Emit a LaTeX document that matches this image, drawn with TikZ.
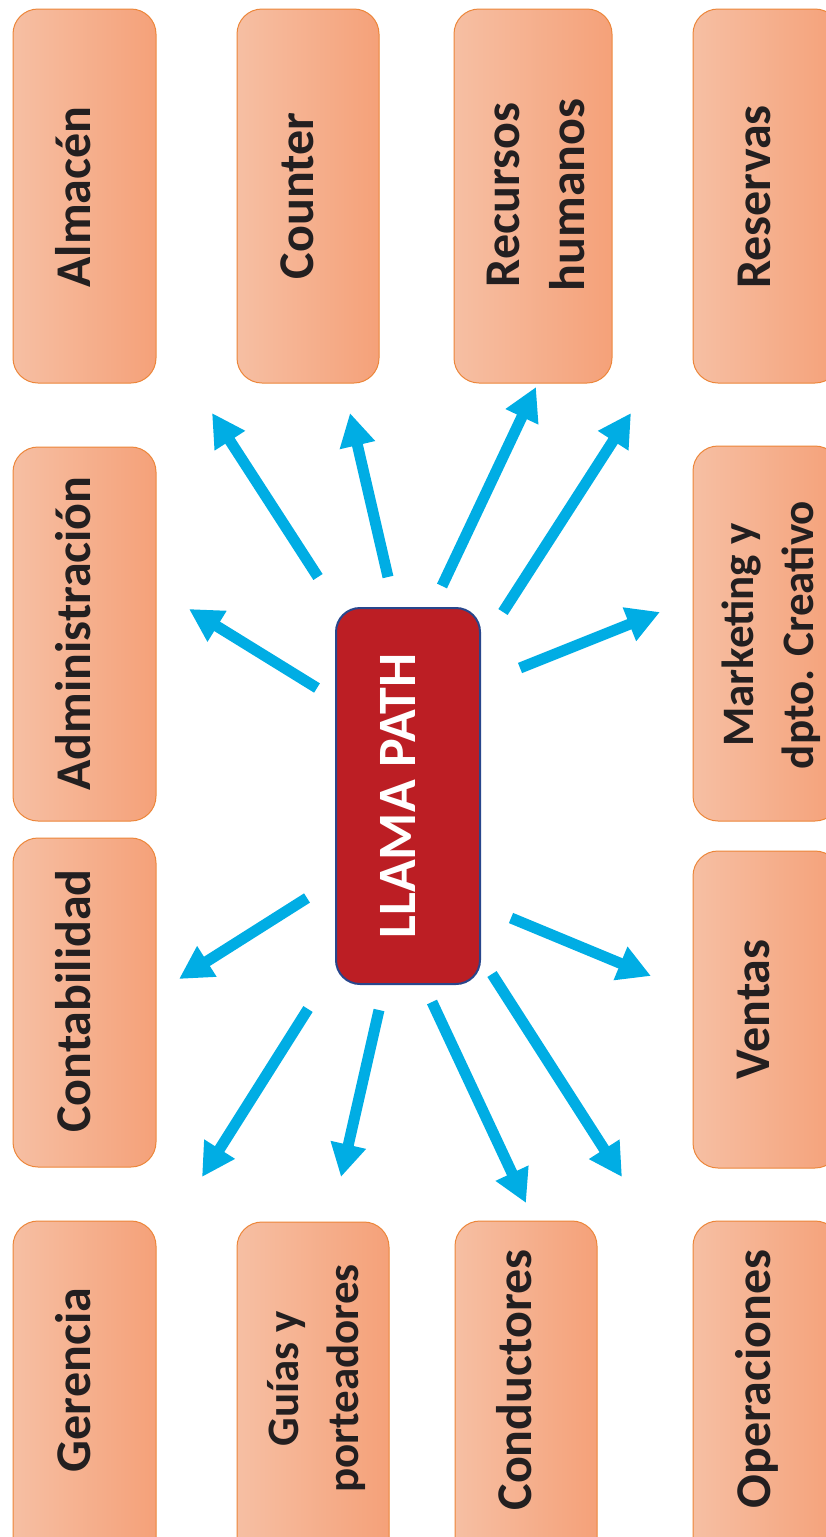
\documentclass[tikz,border=0pt]{standalone}
\usepackage{fontspec}
\setmainfont{Carlito}
\usetikzlibrary{arrows.meta}
\definecolor{boxL}{RGB}{246,191,163}
\definecolor{boxR}{RGB}{245,161,121}
\definecolor{boxEdge}{RGB}{236,134,58}
\definecolor{txt}{RGB}{35,31,32}
\definecolor{hubFill}{RGB}{188,30,36}
\definecolor{hubEdge}{RGB}{40,70,140}
\definecolor{arrowBlue}{RGB}{0,173,228}
\tikzset{
  deptbox/.style={draw=boxEdge, line width=1pt, left color=boxL, right color=boxR,
    rounded corners=25pt, inner sep=0pt, outer sep=0pt},
  hubbox/.style={draw=hubEdge, line width=2pt, fill=hubFill,
    rounded corners=24pt, inner sep=0pt, outer sep=0pt},
  lbl/.style={rotate=90, anchor=base, text=txt, inner sep=0pt,
    font=\bfseries\fontsize{50}{65}\selectfont},
  lbltwo/.style={rotate=90, anchor=center, text=txt, inner sep=0pt, align=center,
    font=\bfseries\fontsize{50}{65}\selectfont},
  lblsmall/.style={rotate=90, anchor=center, text=txt, inner sep=0pt, align=center,
    font=\bfseries\fontsize{45}{60}\selectfont},
  hublbl/.style={rotate=90, anchor=base, text=white, inner sep=0pt,
    font=\bfseries\fontsize{54}{65}\selectfont},
  conn/.style={draw=arrowBlue, line width=11pt,
    -{Triangle[length=33pt,width=34pt]}}
}
\begin{document}
\begin{tikzpicture}[x=1pt,y=-1pt]
\useasboundingbox (0,0) rectangle (826,1537);
% boxes
\node[deptbox, minimum width=143pt, minimum height=374pt] (alm) at (84.5,196) {};
\node[deptbox, minimum width=142pt, minimum height=374pt] (cou) at (308,196) {};
\node[deptbox, minimum width=158pt, minimum height=374pt] (rrhh) at (533,196) {};
\node[deptbox, minimum width=147pt, minimum height=374pt] (res) at (766.5,196) {};
\node[deptbox, minimum width=143pt, minimum height=374pt] (adm) at (84.5,634) {};
\node[deptbox, minimum width=147pt, minimum height=375pt] (mkt) at (766.5,633.5) {};
\node[deptbox, minimum width=143pt, minimum height=329pt] (con) at (84.5,1002.5) {};
\node[deptbox, minimum width=147pt, minimum height=317pt] (ven) at (766.5,1009.5) {};
\node[deptbox, minimum width=143pt, minimum height=375pt] (ger) at (84.5,1408.5) {};
\node[deptbox, minimum width=152pt, minimum height=375pt] (gui) at (313,1409.5) {};
\node[deptbox, minimum width=142pt, minimum height=375pt] (cond) at (526,1408.5) {};
\node[deptbox, minimum width=147pt, minimum height=375pt] (ope) at (766.5,1408.5) {};
\node[hubbox, minimum width=144pt, minimum height=376pt] (hub) at (408,796) {};
% labels
\node[lbl] (almT) at (90,197) {Almacén};
\node[lbl] (couT) at (313,196) {Counter};
\node[lbltwo] (rrhhT) at (536,195) {Recursos\\humanos};
\node[lbl] (resT) at (770,197) {Reservas};
\node[lbl] (admT) at (90,633.5) {Administración};
\node[lblsmall] (mktT) at (771,635) {Marketing y\\dpto. Creativo};
\node[lbl] (conT) at (90,1001) {Contabilidad};
\node[lbl] (venT) at (769,1009.5) {Ventas};
\node[lbl] (gerT) at (90,1380) {Gerencia};
\node[lblsmall] (guiT) at (316,1378.5) {Guías y\\porteadores};
\node[lbl] (condT) at (531,1380) {Conductores};
\node[lbl] (opeT) at (770,1379) {Operaciones};
\node[hublbl] (hubT) at (415,796) {LLAMA PATH};
% arrow end points
\coordinate (a1s) at (318,577);  \coordinate (a1e) at (212,413);
\coordinate (a2s) at (388,577);  \coordinate (a2e) at (350,413);
\coordinate (a3s) at (442,586);  \coordinate (a3e) at (536,387);
\coordinate (a4s) at (503,612);  \coordinate (a4e) at (631,413);
\coordinate (a5s) at (317,688);  \coordinate (a5e) at (189,609);
\coordinate (a6s) at (520,668);  \coordinate (a6e) at (660,612);
\coordinate (a7s) at (307,898);  \coordinate (a7e) at (179,979);
\coordinate (a8s) at (511,918);  \coordinate (a8e) at (651,976);
\coordinate (a9s) at (308,1009); \coordinate (a9e) at (202,1177);
\coordinate (a10s) at (379,1010); \coordinate (a10e) at (341,1177);
\coordinate (a11s) at (432,1002); \coordinate (a11e) at (526,1203);
\coordinate (a12s) at (492,974);  \coordinate (a12e) at (622,1177);
\foreach \i in {1,...,12}{
  \draw[conn] (a\i s) -- (a\i e);
}
\end{tikzpicture}
\end{document}
